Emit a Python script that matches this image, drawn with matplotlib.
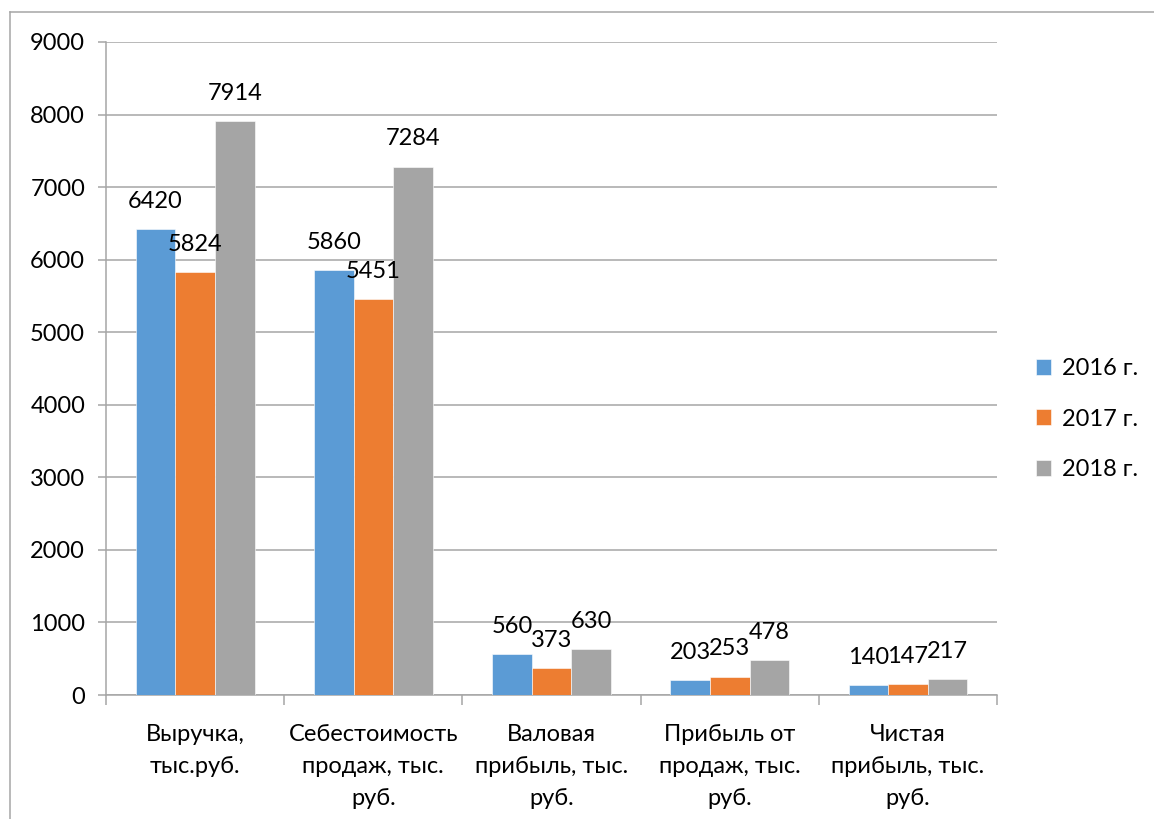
import numpy as np
import matplotlib
matplotlib.use("Agg")
import matplotlib.pyplot as plt
from matplotlib.lines import Line2D

plt.rcParams['font.family'] = ['Lato', 'DejaVu Sans']

# Financial indicators, thousand rubles
categories = ['Выручка,\nтыс.руб.', 'Себестоимость\nпродаж, тыс.\nруб.',
              'Валовая\nприбыль, тыс.\nруб.', 'Прибыль от\nпродаж, тыс.\nруб.',
              'Чистая\nприбыль, тыс.\nруб.']
years = ['2016 г.', '2017 г.', '2018 г.']
values_2016 = [6420, 5860, 560, 203, 140]
values_2017 = [5824, 5451, 373, 253, 147]
values_2018 = [7914, 7284, 630, 478, 217]
colors = ['#5B9BD5', '#ED7D31', '#A5A5A5']
yticks = [0, 1000, 2000, 3000, 4000, 5000, 6000, 7000, 8000, 9000]

FS = 17

fig = plt.figure(figsize=(11.54, 8.19), dpi=100)
ax = fig.add_axes([106 / 1154, 1 - 695 / 819, (997 - 106) / 1154, (695 - 42) / 819])

x = np.arange(len(categories))
width = 1 / 4.5
series = [values_2016, values_2017, values_2018]
for i, (vals, col, lab) in enumerate(zip(series, colors, years)):
    pos = x + (i - 1) * width
    bars = ax.bar(pos, vals, width, color=col, label=lab, zorder=3,
                  edgecolor='white', linewidth=0.4)
    for b, v in zip(bars, vals):
        ax.annotate(str(v), (b.get_x() + b.get_width() / 2, v),
                    xytext=(0, 20), textcoords='offset points',
                    ha='center', va='center', fontsize=FS, color='black',
                    zorder=6)

ax.set_xlim(-0.5, len(categories) - 0.5)
ax.set_ylim(0, 9000)
ax.set_yticks(yticks)
ax.set_yticklabels([str(t) for t in yticks], fontsize=FS)
ax.yaxis.grid(True, color='#A6A6A6', linewidth=1.1, zorder=0)
ax.tick_params(axis='y', length=6, color='#A6A6A6', width=1.1, pad=9)

ax.set_xticks(x)
ax.set_xticklabels(categories, fontsize=FS, linespacing=1.65)
ax.tick_params(axis='x', length=0, pad=21)
# category boundary ticks
ax.set_xticks(np.arange(len(categories) + 1) - 0.5, minor=True)
ax.tick_params(axis='x', which='minor', length=7, color='#A6A6A6', width=1.1)

for side in ['top', 'right']:
    ax.spines[side].set_visible(False)
for side in ['left', 'bottom']:
    ax.spines[side].set_color('#A6A6A6')
    ax.spines[side].set_linewidth(1.1)

ax.legend(loc='center left', bbox_to_anchor=(1.02, 0.4226), frameon=False,
          fontsize=FS, handlelength=0.65, handleheight=0.65,
          handletextpad=0.45, labelspacing=1.25)

# outer chart frame
fx = 10 / 1154
fy = 1 - 12 / 819
fig.add_artist(Line2D([fx, fx], [0, fy], color='#A6A6A6', linewidth=1.1))
fig.add_artist(Line2D([fx, 1], [fy, fy], color='#A6A6A6', linewidth=1.1))

fig.savefig('out.png', dpi=100, facecolor='white')
